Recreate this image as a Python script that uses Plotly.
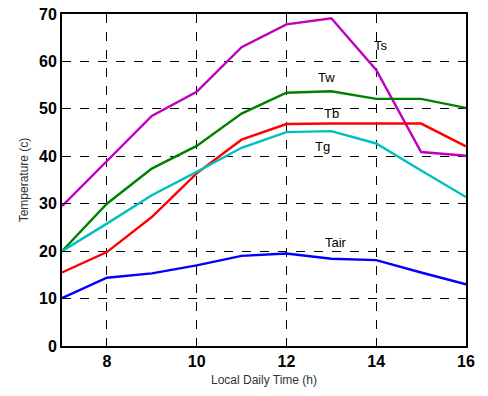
import plotly.graph_objects as go

hours = [7, 8, 9, 10, 11, 12, 13, 14, 15, 16]
Ts = [29.5, 39.0, 48.5, 53.6, 63.0, 67.8, 69.1, 58.2, 40.9, 40.1]
Tw = [20.0, 30.0, 37.4, 42.2, 49.0, 53.4, 53.7, 52.1, 52.1, 50.2]
Tb = [15.5, 19.8, 27.2, 36.4, 43.5, 46.8, 46.9, 46.9, 46.9, 42.1]
Tg = [20.0, 25.8, 31.8, 36.7, 41.8, 45.1, 45.3, 42.7, 37.0, 31.4]
Tair = [10.1, 14.4, 15.3, 17.0, 19.0, 19.5, 18.4, 18.1, 15.5, 13.0]

series = [
    ("Ts", Ts, "#BF00BF", 14.1, 63.3),
    ("Tw", Tw, "#008000", 12.9, 56.6),
    ("Tb", Tb, "#FF0000", 13.0, 49.0),
    ("Tg", Tg, "#00BFBF", 12.8, 42.0),
    ("Tair", Tair, "#0000FF", 13.1, 21.9),
]

x_ticks = [8, 10, 12, 14, 16]
y_ticks = [0, 10, 20, 30, 40, 50, 60, 70]

fig = go.Figure()
for name, vals, color, lx, ly in series:
    fig.add_trace(go.Scatter(x=hours, y=vals, mode="lines", name=name,
                             line=dict(color=color, width=2.4)))
    fig.add_annotation(x=lx, y=ly, text=name, showarrow=False,
                       font=dict(family="Arial, Liberation Sans", size=13, color="#000000"))

axis_common = dict(
    showline=True, linecolor="black", linewidth=2, mirror=True,
    ticks="inside", ticklen=5, tickcolor="black", tickwidth=1,
    showgrid=True, gridcolor="black", griddash="dash", gridwidth=1,
    zeroline=False, automargin=False,
    tickfont=dict(family="Arial, Liberation Sans", size=16, color="black", weight="bold"),
)

fig.update_layout(
    width=488, height=396,
    margin=dict(l=62, r=22, t=14, b=50),
    paper_bgcolor="white", plot_bgcolor="white",
    showlegend=False,
    xaxis=dict(range=[7, 16], tickvals=x_ticks,
               title=dict(text="Local Daily Time (h)", standoff=6,
                          font=dict(family="Arial, Liberation Sans", size=12, color="#333333")),
               **axis_common),
    yaxis=dict(range=[0, 70], tickvals=y_ticks,
               title=dict(text="Temperature (c)", standoff=8,
                          font=dict(family="Arial, Liberation Sans", size=12, color="#333333")),
               **axis_common),
)

fig.write_html("out.html", config={"displayModeBar": False},
               post_script="document.body.style.margin='0';document.body.style.overflow='hidden';")
